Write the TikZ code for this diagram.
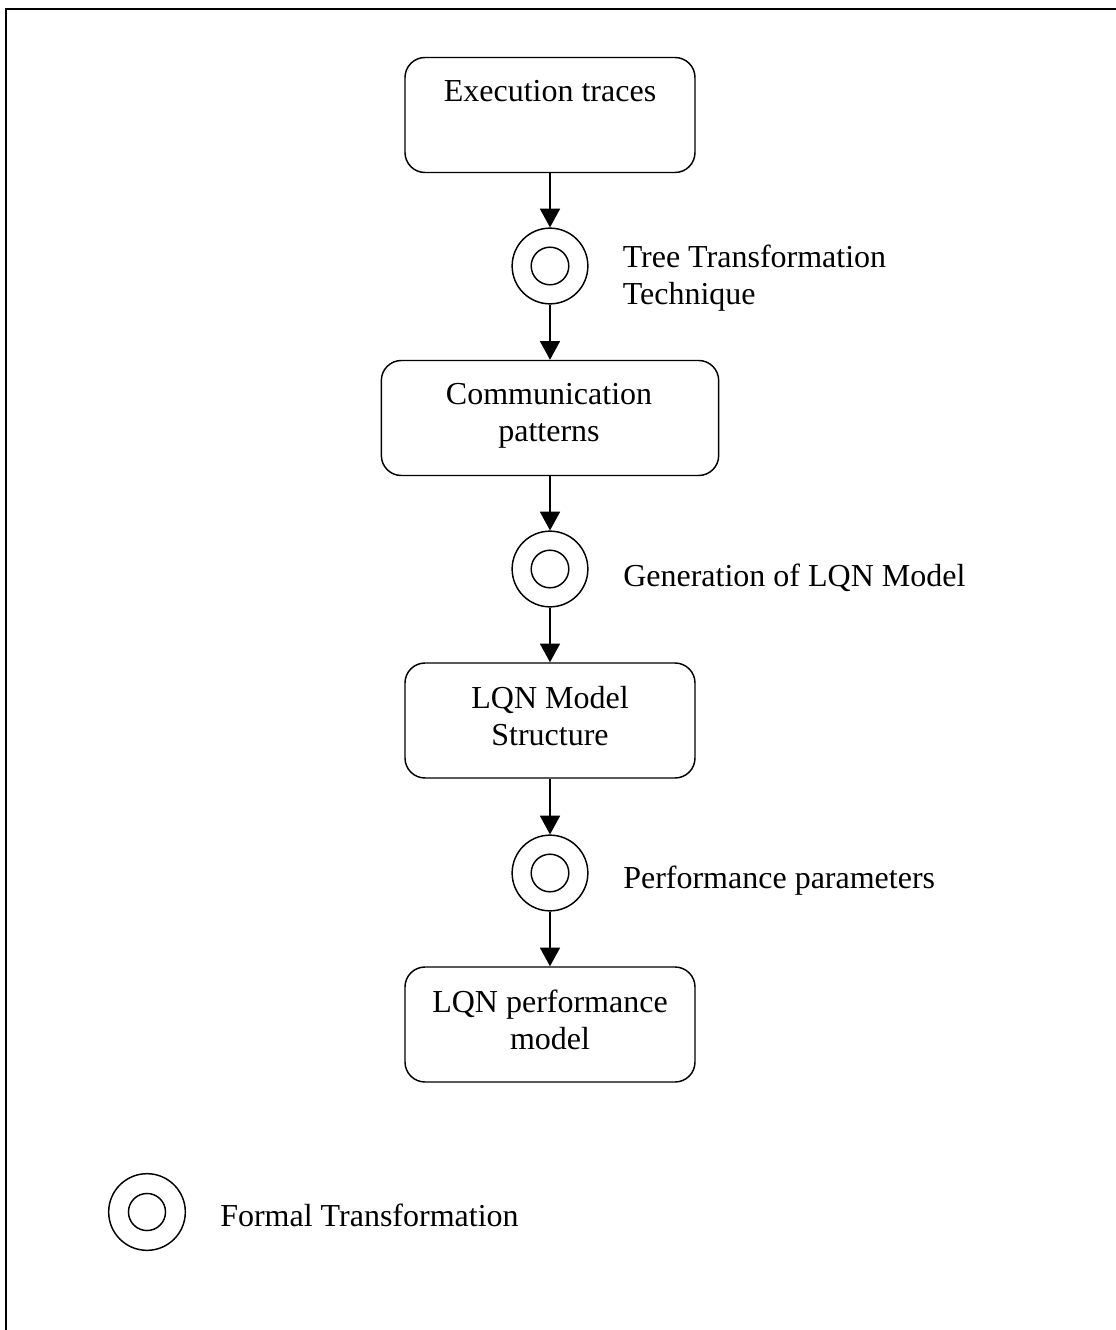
\documentclass[tikz,border=0pt]{standalone}
\usepackage{fontspec}
\setmainfont{Liberation Serif}
\usetikzlibrary{arrows.meta}

\begin{document}
\begin{tikzpicture}[x=0.75pt,y=-0.75pt,
  stage/.style={draw, rounded corners=15pt, line width=1.1pt, inner sep=0pt,
    minimum width=217.5pt, minimum height=86.25pt},
  widestage/.style={stage, minimum width=253pt},
  words/.style={inner sep=0pt, font=\fontsize{24}{27.5}\selectfont, align=center},
  note/.style={inner sep=0pt, font=\fontsize{24}{27.5}\selectfont, align=left},
  ringout/.style={draw, circle, line width=1.1pt, inner sep=0pt, minimum size=56.8pt},
  ringin/.style={draw, circle, line width=1.1pt, inner sep=0pt, minimum size=28.2pt},
  flow/.style={-{Triangle[length=14pt,width=15pt]}, line width=1.1pt}
]
\useasboundingbox (0,0) rectangle (1116,1330);

% page frame (left and top edges)
\draw[line width=1.5pt] (6,1330) -- (6,9) -- (1116,9);

% stages
\node[stage] (b1) at (550,115) {};
\node[widestage] (b2) at (550,418) {};
\node[stage] (b3) at (550,720.5) {};
\node[stage] (b4) at (550,1024.5) {};

\node[words, anchor=north] (t1) at (550,79.7) {Execution traces};
\node[words, anchor=north] (t2) at (549,383) {Communication\\patterns};
\node[words, anchor=north] (t3) at (550,686.3) {LQN Model\\Structure};
\node[words, anchor=north] (t4) at (550,989.7) {LQN performance\\model};

% formal transformations
\node[ringout] (c1) at (550,266) {};
\node[ringin]  (c1in) at (550,266) {};
\node[ringout] (c2) at (550,569) {};
\node[ringin]  (c2in) at (550,569) {};
\node[ringout] (c3) at (550,873) {};
\node[ringin]  (c3in) at (550,873) {};

\node[note, anchor=north west] (l1) at (622.5,244.7) {Tree Transformation\\Technique};
\node[note, anchor=base west] (l2) at (623,586.5) {Generation of LQN Model};
\node[note, anchor=base west] (l3) at (623,888) {Performance parameters};

% flow between stages
\draw[flow] (b1) -- (c1);
\draw[flow] (c1) -- (b2);
\draw[flow] (b2) -- (c2);
\draw[flow] (c2) -- (b3);
\draw[flow] (b3) -- (c3);
\draw[flow] (c3) -- (b4);

% legend
\node[ringout, minimum size=57.5pt] (k) at (147,1212) {};
\node[ringin, minimum size=27.8pt] (kin) at (147,1212) {};
\node[note, anchor=base west] (kl) at (220,1226) {Formal Transformation};
\end{tikzpicture}
\end{document}
